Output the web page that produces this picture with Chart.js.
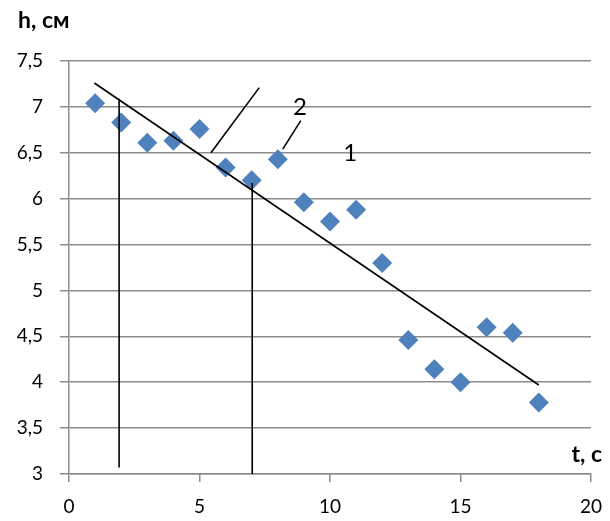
<!DOCTYPE html>
<html>
<head>
<meta charset="utf-8">
<script src="https://cdn.jsdelivr.net/npm/chart.js@4"></script>
<style>
  html, body { margin: 0; padding: 0; background: #ffffff; }
  #wrap { width: 610px; height: 521px; }
</style>
</head>
<body>
<div id="wrap"><canvas id="c" width="610" height="521"></canvas></div>
<script>
// Measured water level h (cm) against time t (s)
const times   = [1, 2, 3, 4, 5, 6, 7, 8, 9, 10, 11, 12, 13, 14, 15, 16, 17, 18];
const heights = [7.04, 6.83, 6.61, 6.63, 6.76, 6.34, 6.20, 6.43, 5.96, 5.75, 5.88, 5.30, 4.46, 4.14, 4.00, 4.60, 4.54, 3.78];

// Hand-drawn construction lines, as [t, h] pairs
const fitLine      = [[0.97, 7.26], [18.0, 3.97]];   // line 1
const tangentLine  = [[5.44, 6.50], [7.29, 7.21]];   // line 2
const leaderLine   = [[8.19, 6.54], [8.88, 6.85]];   // pointer to label "2"
const dropLineA    = [[1.92, 7.09], [1.92, 3.07]];
const dropLineB    = [[7.02, 6.17], [7.02, 3.00]];

// Number labels placed next to the lines, [t, h, text]
const lineLabels = [[8.85, 7.00, '2'], [10.77, 6.49, '1']];

// Axis ranges and titles
const xRange = [0, 20, 5];
const yRange = [3, 7.5, 0.5];
const xTitle = 't, с';
const yTitle = 'h, см';

const GRID = '#8c8c8c';
const toPts = arr => arr.map(([x, y]) => ({ x, y }));

const lineSet = arr => ({
  data: toPts(arr),
  showLine: true,
  borderColor: '#000000',
  borderWidth: 1.6,
  pointRadius: 0,
  fill: false,
  order: 0
});

const textPlugin = {
  id: 'textMarks',
  afterDatasetsDraw(chart) {
    const { ctx, scales: { x, y }, chartArea } = chart;
    ctx.save();
    ctx.fillStyle = '#000000';
    ctx.font = '24px Lato';
    ctx.textAlign = 'center';
    ctx.textBaseline = 'middle';
    for (const [t, h, txt] of lineLabels) {
      ctx.fillText(txt, x.getPixelForValue(t), y.getPixelForValue(h));
    }
    ctx.font = 'bold 23px Lato';
    ctx.textBaseline = 'alphabetic';
    ctx.textAlign = 'left';
    ctx.fillText(yTitle, chartArea.left - 51, chartArea.top - 33);
    ctx.textAlign = 'right';
    ctx.fillText(xTitle, chartArea.right + 11, chartArea.bottom - 12);
    ctx.restore();
  }
};

function draw() {
  new Chart(document.getElementById('c'), {
    type: 'scatter',
    data: {
      datasets: [
        lineSet(fitLine),
        lineSet(tangentLine),
        lineSet(leaderLine),
        lineSet(dropLineA),
        lineSet(dropLineB),
        {
          data: times.map((t, i) => ({ x: t, y: heights[i] })),
          pointStyle: 'rectRot',
          pointRadius: 10,
          pointHoverRadius: 10,
          backgroundColor: '#4f81bd',
          borderWidth: 0,
          order: 2
        }
      ]
    },
    options: {
      responsive: false,
      devicePixelRatio: 1,
      animation: false,
      events: [],
      layout: { padding: { top: 61, right: 19, left: 0, bottom: 0 } },
      plugins: { legend: { display: false }, tooltip: { enabled: false } },
      scales: {
        x: {
          type: 'linear',
          min: xRange[0], max: xRange[1],
          afterFit: s => { s.height = 47; s.paddingLeft = 0; s.paddingRight = 0; },
          ticks: { stepSize: xRange[2], color: '#000', font: { family: 'Lato', size: 19 }, padding: 13, maxRotation: 0 },
          grid: { drawOnChartArea: false, drawTicks: true, tickLength: 8, color: GRID, lineWidth: 1.5 },
          border: { display: true, color: GRID, width: 1.5 }
        },
        y: {
          type: 'linear',
          min: yRange[0], max: yRange[1],
          afterFit: s => { s.width = 69; },
          ticks: {
            stepSize: yRange[2], color: '#000', font: { family: 'Lato', size: 19 }, padding: 17,
            callback: v => String(v).replace('.', ',')
          },
          grid: { drawTicks: true, tickLength: 9, color: GRID, lineWidth: 1.5 },
          border: { display: true, color: GRID, width: 1.5 }
        }
      }
    },
    plugins: [textPlugin]
  });
}

if (document.fonts && document.fonts.load) {
  Promise.all([document.fonts.load('19px Lato'), document.fonts.load('bold 23px Lato')]).then(draw, draw);
} else {
  draw();
}
</script>
</body>
</html>
